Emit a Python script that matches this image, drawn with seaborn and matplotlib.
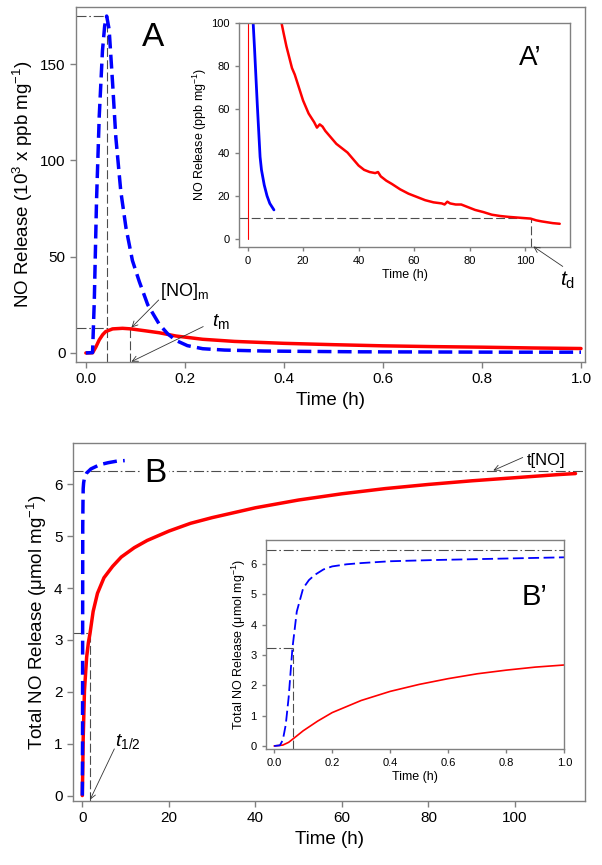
import matplotlib
matplotlib.use('Agg')
import matplotlib.pyplot as plt
import seaborn as sns

# ---- data ----
# A: NO release (10^3 ppb/mg) vs time (h), first hour
a_blue_t = [0, 0.0135, 0.017, 0.0215, 0.027, 0.0335, 0.038, 0.042, 0.047, 0.054, 0.0605,
            0.0705, 0.081, 0.094, 0.108, 0.125, 0.148, 0.165, 0.182, 0.205, 0.236, 0.28,
            0.36, 0.45, 0.55, 0.7, 0.85, 1.0]
a_blue_y = [0, 0.2, 27, 79, 123, 157, 170, 175, 168, 140, 112,
            84, 65, 48, 37, 25, 15, 10, 6.5, 3.8, 2.2, 1.5,
            1.0, 0.8, 0.6, 0.5, 0.4, 0.4]
a_red_t = [0, 0.0135, 0.02, 0.027, 0.034, 0.04, 0.054, 0.074, 0.091, 0.12, 0.148, 0.182,
           0.236, 0.3, 0.4, 0.5, 0.6, 0.7, 0.8, 0.9, 1.0]
a_red_y = [0, 0.1, 3, 6.8, 9.5, 11.1, 12.5, 12.8, 12.5, 11.5, 10.5, 8.8,
           7.1, 6.0, 5.0, 4.3, 3.7, 3.3, 3.0, 2.6, 2.3]

# A': NO release (ppb/mg) vs time (h), long run
ai_spike_t = [0, 0]
ai_spike_y = [0, 100]
ai_blue_t = [2.0, 2.5, 3.0, 3.5, 4.0, 4.5, 5.0, 6.0, 7.0, 8.0, 9.5]
ai_blue_y = [100, 88, 75, 62, 50, 38, 32, 25, 20, 16.5, 13.5]
ai_red_t = [12.2, 13, 14, 15, 16, 17, 18, 19, 20, 21, 22, 23, 24, 25, 26, 27, 28, 30, 32, 34,
            36, 38, 40, 42, 44, 46, 47, 48, 50, 52, 55, 58, 61, 64, 67, 70, 71, 72, 73, 75,
            77, 79, 82, 85, 88, 91, 94, 97, 100, 102, 104, 106, 108, 110, 112.5]
ai_red_y = [100, 95, 89, 84, 79, 76, 72, 68, 64, 61, 58, 56, 54, 51.5, 53, 52, 50, 47, 44, 42,
            40, 37, 34, 32, 31, 30.5, 31, 29, 27, 25.5, 23, 21, 19.5, 18, 17, 16.5, 16, 17.3, 16.5, 16,
            16, 15, 13.5, 12.5, 11.3, 10.7, 10.3, 10, 9.7, 9.5, 8.7, 8.2, 7.8, 7.4, 7.1]

# B: total NO release (umol/mg) vs time (h)
b_blue_t = [0, 0.05, 0.1, 0.15, 0.2, 0.3, 0.5, 1, 2, 4, 6, 8, 9.8]
b_blue_y = [0, 1.0, 5.2, 5.64, 5.92, 6.03, 6.13, 6.22, 6.3, 6.38, 6.42, 6.45, 6.46]
b_red_t = [0, 0.1, 0.2, 0.5, 1.0, 1.4, 1.8, 2.5, 3.5, 5, 7, 9, 12, 15, 20, 25, 30, 40, 50,
           60, 70, 80, 90, 100, 110, 114]
b_red_y = [0, 0.5, 1.1, 2.03, 2.67, 2.95, 3.14, 3.55, 3.9, 4.2, 4.42, 4.6, 4.78, 4.92, 5.1,
           5.25, 5.36, 5.55, 5.7, 5.82, 5.92, 6.0, 6.07, 6.13, 6.19, 6.21]

# B': first hour of B
bi_blue_t = [0, 0.02, 0.03, 0.04, 0.05, 0.063, 0.078, 0.1, 0.12, 0.14, 0.17, 0.2, 0.25, 0.3,
             0.4, 0.55, 0.7, 0.85, 1.0]
bi_blue_y = [0, 0.02, 0.2, 0.7, 1.6, 3.22, 4.43, 5.2, 5.47, 5.64, 5.82, 5.92, 5.99, 6.03,
             6.09, 6.13, 6.16, 6.19, 6.22]
bi_red_t = [0, 0.03, 0.05, 0.07, 0.1, 0.15, 0.2, 0.3, 0.4, 0.5, 0.6, 0.7, 0.8, 0.9, 1.0]
bi_red_y = [0, 0.03, 0.12, 0.27, 0.5, 0.82, 1.1, 1.5, 1.8, 2.03, 2.22, 2.38, 2.5, 2.6, 2.67]

BLUE = '#0000ff'
RED = '#ff0000'
GRAY = '#808080'
DASH = (0, (8, 3))
DASHDOT = (0, (9, 2.5, 1.5, 2.5))

sns.set_style('ticks')
plt.rcParams['font.family'] = ['Liberation Sans', 'DejaVu Sans']
plt.rcParams['mathtext.fontset'] = 'custom'
plt.rcParams['mathtext.rm'] = 'Liberation Sans'
plt.rcParams['mathtext.it'] = 'Liberation Sans:italic'
plt.rcParams['text.color'] = 'black'
plt.rcParams['axes.labelcolor'] = 'black'


def style_ax(ax, fs, tl=4):
    for s in ax.spines.values():
        s.set_color(GRAY)
        s.set_linewidth(1)
    ax.tick_params(direction='out', color=GRAY, length=tl, width=1,
                   labelsize=fs, labelcolor='black')


def curve(ax, x, y, **kw):
    # estimator=None so seaborn draws the points as they are (no aggregation)
    sns.lineplot(x=x, y=y, ax=ax, estimator=None, sort=False, **kw)


def guide(ax, xs, ys, ls=DASH):
    ax.plot(xs, ys, color='0.3', lw=0.8, linestyle=ls, zorder=1)


def arrow(ax, text_xy, tip_xy):
    ax.annotate('', xy=tip_xy, xytext=text_xy, annotation_clip=False,
                arrowprops=dict(arrowstyle='->', color='0.2', lw=0.6,
                                shrinkA=0, shrinkB=0))


fig = plt.figure(figsize=(6.02, 8.65), dpi=100)

# ---------------- panel A ----------------
axA = fig.add_axes([0.1262, 0.5815, 0.8455, 0.4104])
guide(axA, [-0.02, 0.042], [175, 175], DASHDOT)
guide(axA, [0.042, 0.042], [-4.7, 175])
guide(axA, [-0.02, 0.0895], [12.8, 12.8], DASHDOT)
guide(axA, [0.0895, 0.0895], [-4.7, 12.8])
curve(axA, a_red_t, a_red_y, color=RED, lw=2.5)
curve(axA, a_blue_t, a_blue_y, color=BLUE, lw=2.5, linestyle=(0, (4, 1.8)))
axA.set_xlim(-0.02, 1.008)
axA.set_ylim(-4.7, 179.7)
axA.set_xticks([0, 0.2, 0.4, 0.6, 0.8, 1.0])
axA.set_xticklabels(['0.0', '0.2', '0.4', '0.6', '0.8', '1.0'])
axA.set_yticks([0, 50, 100, 150])
style_ax(axA, 11)
axA.set_xlabel('Time (h)', fontsize=13.5)
axA.set_ylabel('NO Release (10$^3$ x ppb mg$^{-1}$)', fontsize=13.5)
axA.text(0.135, 164, 'A', fontsize=24, ha='center', va='center')
axA.text(0.149, 32, '[NO]$_\\mathrm{m}$', fontsize=13, ha='left', va='center')
arrow(axA, (0.147, 27.5), (0.092, 13.2))
axA.text(0.254, 16.5, '$\\mathit{t}_\\mathrm{m}$', fontsize=14, ha='left', va='center')
arrow(axA, (0.237, 13.7), (0.092, -4.5))

# ---------------- inset A' ----------------
axAi = fig.add_axes([0.397, 0.7145, 0.5498, 0.2594])
axAi.set_facecolor('white')
guide(axAi, [-3.1, 102], [10, 10])
guide(axAi, [102, 102], [-3.6, 10])
curve(axAi, ai_spike_t, ai_spike_y, color=RED, lw=0.8)
curve(axAi, ai_red_t, ai_red_y, color=RED, lw=1.8)
curve(axAi, ai_blue_t, ai_blue_y, color=BLUE, lw=2.0)
axAi.set_xlim(-3.1, 116.2)
axAi.set_ylim(-3.6, 100)
axAi.set_xticks([0, 20, 40, 60, 80, 100])
axAi.set_yticks([0, 20, 40, 60, 80, 100])
style_ax(axAi, 8, tl=3)
axAi.set_xlabel('Time (h)', fontsize=9, labelpad=2)
axAi.set_ylabel('NO Release (ppb mg$^{-1}$)', fontsize=9, labelpad=2)
axAi.text(102, 83.6, 'A\u2019', fontsize=20, ha='center', va='center')
axAi.text(112.6, -19, '$\\mathit{t}_\\mathrm{d}$', fontsize=15, ha='left', va='center',
          clip_on=False)
arrow(axAi, (113.6, -12.6), (103, -3.4))

# ---------------- panel B ----------------
axB = fig.add_axes([0.1213, 0.0743, 0.8505, 0.4136])
guide(axB, [-2.15, 116.2], [6.25, 6.25], DASHDOT)
guide(axB, [-2.15, 1.8], [3.14, 3.14], DASHDOT)
guide(axB, [1.8, 1.8], [-0.1, 3.14])
curve(axB, b_red_t, b_red_y, color=RED, lw=2.5)
curve(axB, b_blue_t, b_blue_y, color=BLUE, lw=2.5, linestyle=(0, (4, 1.8)))
axB.set_xlim(-2.15, 116.2)
axB.set_ylim(-0.1, 6.8)
axB.set_xticks([0, 20, 40, 60, 80, 100])
axB.set_yticks([0, 1, 2, 3, 4, 5, 6])
style_ax(axB, 11)
axB.set_xlabel('Time (h)', fontsize=13.5)
axB.set_ylabel('Total NO Release (\u03bcmol mg$^{-1}$)', fontsize=13.5)
axB.text(16.8, 6.21, 'B', fontsize=24, ha='center', va='center',
         bbox=dict(fc='white', ec='none', pad=2))
axB.text(102.8, 6.47, 't[NO]', fontsize=12, ha='left', va='center')
arrow(axB, (101.8, 6.52), (95, 6.27))
axB.text(7.6, 0.85, '$\\mathit{t}_\\mathrm{1/2}$', fontsize=14, ha='left', va='bottom')
arrow(axB, (7.4, 0.9), (1.8, -0.08))

# ---------------- inset B' ----------------
axBi = fig.add_axes([0.4414, 0.1341, 0.496, 0.2416])
axBi.set_facecolor('white')
guide(axBi, [-0.029, 1.0], [6.45, 6.45], DASHDOT)
guide(axBi, [-0.029, 0.064], [3.22, 3.22], DASHDOT)
guide(axBi, [0.064, 0.064], [-0.1, 3.22])
curve(axBi, bi_red_t, bi_red_y, color=RED, lw=1.2)
curve(axBi, bi_blue_t, bi_blue_y, color=BLUE, lw=1.3, linestyle=(0, (6, 2.5)))
axBi.set_xlim(-0.029, 1.0)
axBi.set_ylim(-0.1, 6.79)
axBi.set_xticks([0, 0.2, 0.4, 0.6, 0.8, 1.0])
axBi.set_xticklabels(['0.0', '0.2', '0.4', '0.6', '0.8', '1.0'])
axBi.set_yticks([0, 1, 2, 3, 4, 5, 6])
style_ax(axBi, 8, tl=3)
axBi.set_xlabel('Time (h)', fontsize=9, labelpad=2)
axBi.set_ylabel('Total NO Release (\u03bcmol mg$^{-1}$)', fontsize=9, labelpad=2)
axBi.text(0.896, 4.9, 'B\u2019', fontsize=21, ha='center', va='center')

fig.savefig('out.png', dpi=100)
